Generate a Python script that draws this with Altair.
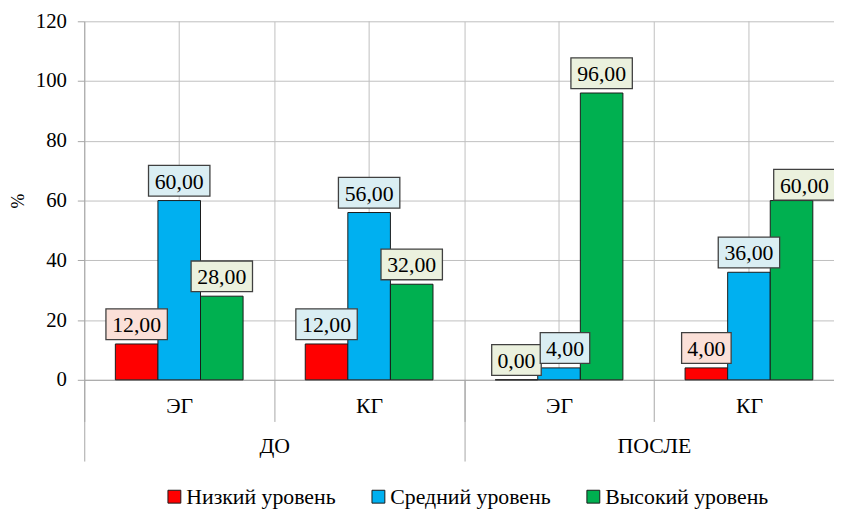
import altair as alt
import pandas as pd

# ---- data ----
periods = ["ДО", "ДО", "ПОСЛЕ", "ПОСЛЕ"]
groups = ["ЭГ", "КГ", "ЭГ", "КГ"]
series = ["Низкий уровень", "Средний уровень", "Высокий уровень"]
low = [12.0, 12.0, 0.0, 4.0]
mid = [60.0, 56.0, 4.0, 36.0]
high = [28.0, 32.0, 96.0, 60.0]
y_ticks = [0, 20, 40, 60, 80, 100, 120]

# ---- styles ----
bar_colors = ["#FF0000", "#00B0F0", "#00B050"]
label_fills = {"Низкий уровень": "#FBE0D8", "Средний уровень": "#DAEEF3", "Высокий уровень": "#EBF1DE"}
fill_override = {("ДО", "КГ", "Низкий уровень"): "#DAEEF3",
                 ("ПОСЛЕ", "ЭГ", "Низкий уровень"): "#EBF1DE"}
nudges = {("ПОСЛЕ", "ЭГ", "Средний уровень"): (6, 0),
          ("ПОСЛЕ", "КГ", "Высокий уровень"): (13, 4)}

FONT = "Liberation Serif"
GRID = "#BFBFBF"
AXIS = "#A6A6A6"
UNIT = 31.0
BOX_H = 31.0
LIFT = 20.0

def box_path(w, dx, dy):
    x0 = (-w / 2 + dx) / UNIT
    x1 = (w / 2 + dx) / UNIT
    y0 = (-LIFT + dy - BOX_H / 2) / UNIT
    y1 = (-LIFT + dy + BOX_H / 2) / UNIT
    return f"M{x0:.4f},{y0:.4f}H{x1:.4f}V{y1:.4f}H{x0:.4f}Z"

rows = []
keys = [f"{p}|{g}" for p, g in zip(periods, groups)]
for i, (p, g) in enumerate(zip(periods, groups)):
    for s, vals in zip(series, [low, mid, high]):
        v = vals[i]
        lab = f"{v:.2f}".replace(".", ",")
        dx, dy = nudges.get((p, g, s), (0, 0))
        w = 62 if len(lab) >= 5 else 50
        rows.append({
            "key": keys[i], "period": p, "group": g, "series": s, "value": v,
            "label": lab,
            "lfill": fill_override.get((p, g, s), label_fills[s]),
            "shape": box_path(w, dx, dy),
            "nid": f"{dx}_{dy}",
        })
df = pd.DataFrame(rows)
keys_df = pd.DataFrame({"key": keys})
period_df = pd.DataFrame({"period": ["ДО", "ПОСЛЕ"]})

X_RANGE = [0, 767]

x_enc = alt.X(
    "key:N", sort=keys, title=None,
    scale=alt.Scale(paddingInner=0, paddingOuter=0, range=X_RANGE),
    axis=alt.Axis(
        labelExpr="split(datum.label, '|')[1]", labelAngle=0,
        tickBand="extent", tickSize=42, labelPadding=-26,
        grid=True, gridColor=GRID, gridWidth=1,
        domainColor=AXIS, tickColor=AXIS,
        labelFont=FONT, labelFontSize=22, labelColor="#000000",
    ),
)
x_off = alt.XOffset("series:N", sort=series,
                    scale=alt.Scale(paddingInner=0, paddingOuter=0.73))
y_enc = alt.Y(
    "value:Q", title="%",
    scale=alt.Scale(domain=[0, 120], nice=False),
    axis=alt.Axis(
        values=y_ticks, grid=True, gridColor=GRID, gridWidth=1,
        domainColor=AXIS, tickColor=AXIS, tickSize=7, labelPadding=11,
        labelFont=FONT, labelFontSize=21, labelColor="#000000",
        titleFont=FONT, titleFontSize=18, titleFontWeight="normal",
        titleColor="#000000", titlePadding=8,
    ),
)

center_rules = alt.Chart(keys_df).mark_rule(color=GRID, strokeWidth=1).encode(
    x=x_enc, y=alt.datum(0), y2=alt.datum(120)
)

bars = alt.Chart(df).mark_bar(stroke="#1a1a1a", strokeWidth=1).encode(
    x=x_enc, xOffset=x_off, y=y_enc,
    color=alt.Color(
        "series:N", sort=series,
        scale=alt.Scale(domain=series, range=bar_colors),
        legend=alt.Legend(
            title=None, orient="none", direction="horizontal",
            legendX=80, legendY=469, columnPadding=32, labelLimit=400,
            symbolType="square", symbolSize=169, symbolStrokeColor="#1a1a1a",
            symbolStrokeWidth=1, symbolOpacity=1, labelOffset=1,
            labelFont=FONT, labelFontSize=22, labelColor="#000000",
        ),
    ),
)

boxes = alt.Chart(df).mark_point(
    filled=True, size=(2 * UNIT) ** 2, opacity=1,
    stroke="#404040", strokeWidth=1.3,
).encode(
    x=x_enc, xOffset=x_off, y=alt.Y("value:Q"),
    shape=alt.Shape("shape:N", scale=None),
    fill=alt.Fill("lfill:N", scale=None),
)

text_layers = []
for nid in df["nid"].unique():
    dx, dy = [int(t) for t in nid.split("_")]
    text_layers.append(
        alt.Chart(df).transform_filter(alt.datum.nid == nid).mark_text(
            font=FONT, fontSize=22, color="#000000", baseline="middle",
            dx=dx, dy=-LIFT + dy + 1,
        ).encode(x=x_enc, xOffset=x_off, y=alt.Y("value:Q"), text="label:N")
    )

main = alt.layer(center_rules, bars, boxes, *text_layers)

period_axis = alt.Chart(period_df).mark_rule(opacity=0).encode(
    x=alt.X(
        "period:N", sort=["ДО", "ПОСЛЕ"], title=None,
        scale=alt.Scale(paddingInner=0, paddingOuter=0, range=X_RANGE),
        axis=alt.Axis(
            orient="bottom", labelAngle=0, tickBand="extent", tickSize=82,
            labelPadding=-26, grid=False, domain=False, tickColor=AXIS,
            labelFont=FONT, labelFontSize=22, labelColor="#000000",
        ),
    ),
    y=alt.datum(0), y2=alt.datum(0),
)

chart = alt.layer(main, period_axis).resolve_scale(x="independent").properties(
    width=757, height=362,
    autosize=alt.AutoSizeParams(type="none"),
    padding={"left": 77, "top": 11, "right": 0, "bottom": 129},
).configure_view(stroke=None)

chart.save("out.html", embed_options={"renderer": "svg", "actions": False})
